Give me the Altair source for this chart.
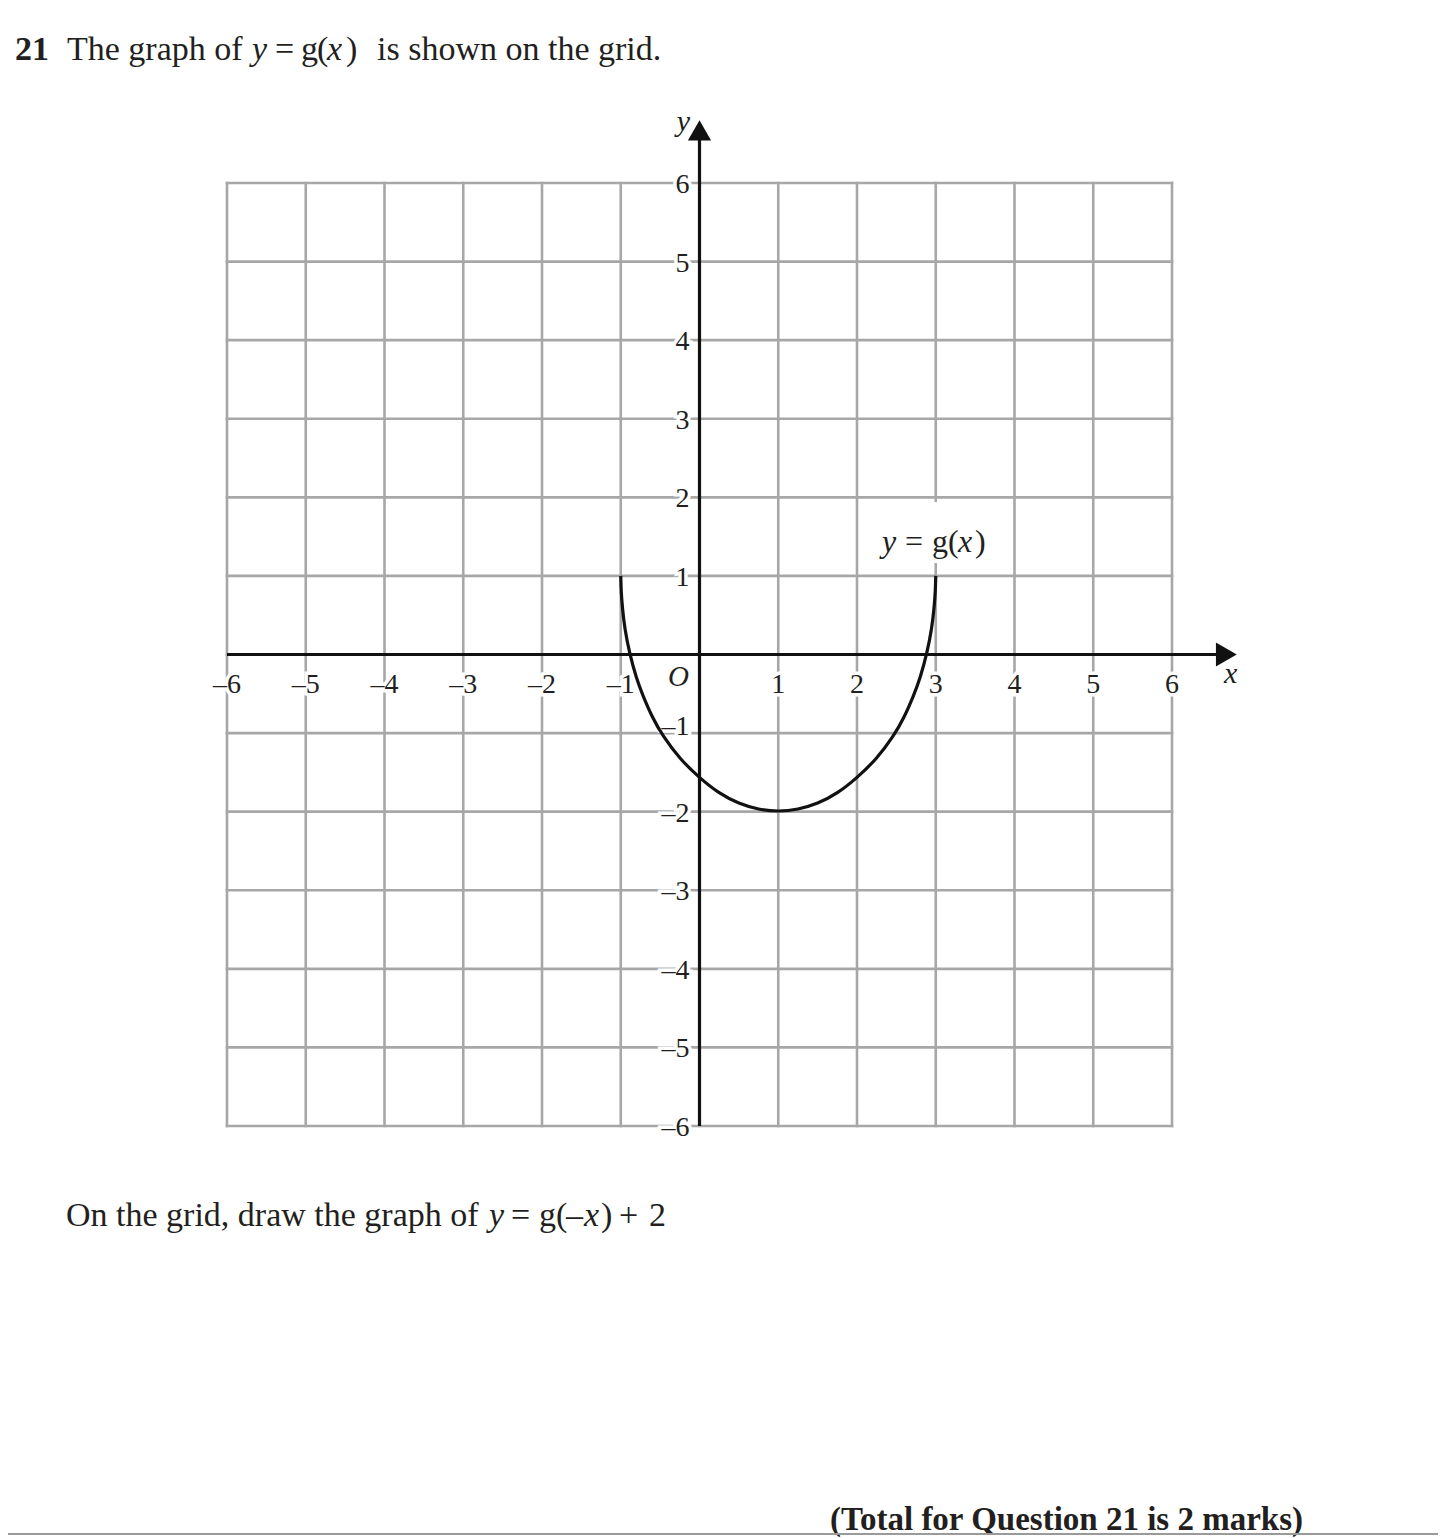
import altair as alt
import pandas as pd

FONT = "Liberation Serif"
INK = "#231f20"
GRID_COLOR = "#a7a7a7"

# ---- data ----
GRID = [-6, -5, -4, -3, -2, -1, 0, 1, 2, 3, 4, 5, 6]
X_TICKS = [-6, -5, -4, -3, -2, -1, 1, 2, 3, 4, 5, 6]
X_TICK_TEXT = ["–6", "–5", "–4", "–3", "–2", "–1", "1", "2", "3", "4", "5", "6"]
Y_TICKS = [-6, -5, -4, -3, -2, 1, 2, 3, 4, 5, 6]
Y_TICK_TEXT = ["–6", "–5", "–4", "–3", "–2", "1", "2", "3", "4", "5", "6"]
Y_TICK_RAISED = [-1]
Y_TICK_RAISED_TEXT = ["–1"]

CURVE_X = [-1.0, -0.995, -0.98, -0.95, -0.89, -0.8, -0.72, -0.6, -0.47, -0.25, 0.0, 0.25, 0.5, 0.75, 1.0,
           1.25, 1.5, 1.75, 2.0, 2.25, 2.47, 2.6, 2.72, 2.8, 2.89, 2.95, 2.98, 2.995, 3.0]
CURVE_Y = [1.0, 0.8, 0.6, 0.33, 0.02, -0.31, -0.52, -0.8, -1.03, -1.33, -1.57, -1.77, -1.9, -1.975, -2.0,
           -1.975, -1.9, -1.77, -1.57, -1.33, -1.03, -0.8, -0.52, -0.31, 0.02, 0.33, 0.6, 0.8, 1.0]

AXIS_END = 6.62          # axis lines run under the arrow heads
ARROW_X = 6.69
ARROW_Y = 6.67

W, H = 1430, 1530
xs = alt.Scale(domain=[-8.781, 9.3778], nice=False, zero=False)
ys = alt.Scale(domain=[-11.2429, 8.2269], nice=False, zero=False)


def X(field, **kw):
    return alt.X(field, scale=xs, axis=None, **kw)


def Y(field, **kw):
    return alt.Y(field, scale=ys, axis=None, **kw)


# grid
vgrid = alt.Chart(pd.DataFrame({"x": GRID, "y0": [-6] * 13, "y1": [6] * 13})).mark_rule(
    color=GRID_COLOR, strokeWidth=2.6, strokeCap="square"
).encode(x=X("x:Q"), y=Y("y0:Q"), y2="y1:Q")
hgrid = alt.Chart(pd.DataFrame({"y": GRID, "x0": [-6] * 13, "x1": [6] * 13})).mark_rule(
    color=GRID_COLOR, strokeWidth=2.6, strokeCap="square"
).encode(y=Y("y:Q"), x=X("x0:Q"), x2="x1:Q")

# white box behind the curve label
label_box = alt.Chart(pd.DataFrame({"a": [0]})).mark_rect(color="white").encode(
    x=alt.value(864), x2=alt.value(994), y=alt.value(494), y2=alt.value(555)
)

# tick labels (with white halo)
xt = pd.DataFrame({"x": X_TICKS, "t": X_TICK_TEXT, "y": [0] * len(X_TICKS)})
yt = pd.DataFrame({"y": Y_TICKS, "t": Y_TICK_TEXT, "x": [0] * len(Y_TICKS)})
yt2 = pd.DataFrame({"y": Y_TICK_RAISED, "t": Y_TICK_RAISED_TEXT, "x": [0]})


def tick_layers(df, halo, **mk):
    base = dict(font=FONT, fontSize=28, **mk)
    if halo:
        m = alt.Chart(df).mark_text(color="white", stroke="white", strokeWidth=7, **base)
    else:
        m = alt.Chart(df).mark_text(color=INK, **base)
    return m.encode(x=X("x:Q"), y=Y("y:Q"), text="t:N")


tick_specs = [
    (xt, dict(align="center", baseline="alphabetic", dy=39)),
    (yt, dict(align="right", baseline="middle", dx=-10, dy=2)),
    (yt2, dict(align="right", baseline="middle", dx=-10, dy=-6)),
]
halos = [tick_layers(df, True, **kw) for df, kw in tick_specs]
ticks = [tick_layers(df, False, **kw) for df, kw in tick_specs]

# curve y = g(x)
curve = alt.Chart(pd.DataFrame({"x": CURVE_X, "y": CURVE_Y})).mark_line(
    color="#111111", strokeWidth=3.2, interpolate="basis"
).encode(x=X("x:Q"), y=Y("y:Q"), order="x:Q")

# axes
xaxis = alt.Chart(pd.DataFrame({"x0": [-6], "x1": [AXIS_END], "y": [0]})).mark_rule(
    color="#111111", strokeWidth=3.2
).encode(x=X("x0:Q"), x2="x1:Q", y=Y("y:Q"))
yaxis = alt.Chart(pd.DataFrame({"y0": [-6], "y1": [AXIS_END], "x": [0]})).mark_rule(
    color="#111111", strokeWidth=3.2
).encode(y=Y("y0:Q"), y2="y1:Q", x=X("x:Q"))
arrow_r = alt.Chart(pd.DataFrame({"x": [ARROW_X], "y": [0]})).mark_point(
    shape="triangle-right", filled=True, size=580, color="#111111", opacity=1
).encode(x=X("x:Q"), y=Y("y:Q"))
arrow_u = alt.Chart(pd.DataFrame({"x": [0], "y": [ARROW_Y]})).mark_point(
    shape="triangle-up", filled=True, size=540, color="#111111", opacity=1
).encode(x=X("x:Q"), y=Y("y:Q"))

# ---- text segments (page pixel -> chart pixel: minus the 8px margin) ----
REG = [
    ("The graph of", 67, 60, 34),
    ("=", 275, 60, 34),
    ("g", 301, 60, 34),
    ("(", 317, 60, 34),
    (")", 346, 60, 34),
    ("is shown on the grid.", 377, 60, 34),
    ("On the grid, draw the graph of", 66, 1226, 34),
    ("=", 511, 1226, 34),
    ("g", 539, 1226, 34),
    ("(", 556, 1226, 34),
    ("–", 566, 1226, 34),
    (")", 601, 1226, 34),
    ("+", 619, 1226, 34),
    ("2", 649, 1226, 34),
    ("=", 905, 552, 32),
    ("g", 932, 552, 32),
    ("(", 948, 552, 32),
    (")", 975, 552, 32),
]
ITAL = [
    ("y", 252, 60, 34),
    ("x", 327, 60, 34),
    ("y", 489, 1226, 34),
    ("x", 584, 1226, 34),
    ("y", 882, 552, 32),
    ("x", 958, 552, 32),
    ("x", 1224, 683, 30),
    ("O", 668, 686, 29),
]
BOLD = [
    ("21", 15, 60, 34),
    ("(Total for Question 21 is 2 marks)", 830, 1530, 33),
]


def text_group(rows, style, weight):
    layers = []
    for size in sorted(set(r[3] for r in rows)):
        sub = [r for r in rows if r[3] == size]
        df = pd.DataFrame({"t": [r[0] for r in sub], "px": [r[1] - 8 for r in sub],
                           "py": [r[2] - 8 for r in sub]})
        layers.append(
            alt.Chart(df).mark_text(font=FONT, fontSize=size, fontStyle=style, fontWeight=weight,
                                    align="left", baseline="alphabetic", color=INK)
            .encode(x=alt.X("px:Q", scale=None, axis=None),
                    y=alt.Y("py:Q", scale=None, axis=None), text="t:N")
        )
    return layers


ylab = alt.Chart(pd.DataFrame({"t": ["y"], "px": [690 - 8], "py": [131 - 8]})).mark_text(
    font=FONT, fontSize=30, fontStyle="italic", align="right", baseline="alphabetic", color=INK
).encode(x=alt.X("px:Q", scale=None, axis=None), y=alt.Y("py:Q", scale=None, axis=None), text="t:N")

bottom_rule = alt.Chart(pd.DataFrame({"a": [0]})).mark_rule(color="#9a9a9a", strokeWidth=2).encode(
    x=alt.value(0), x2=alt.value(W), y=alt.value(1526)
)

layers = ([vgrid, hgrid, label_box] + halos + ticks + [curve, xaxis, yaxis, arrow_r, arrow_u]
          + text_group(REG, "normal", "normal") + text_group(ITAL, "italic", "normal")
          + text_group(BOLD, "normal", "bold") + [ylab, bottom_rule])

chart = alt.layer(*layers).resolve_scale(x="independent", y="independent").properties(
    width=W, height=H, autosize=alt.AutoSizeParams(type="none"), padding=0, background="white"
).configure_view(strokeWidth=0)

chart.save("out.html", embed_options={"renderer": "svg", "actions": False})
